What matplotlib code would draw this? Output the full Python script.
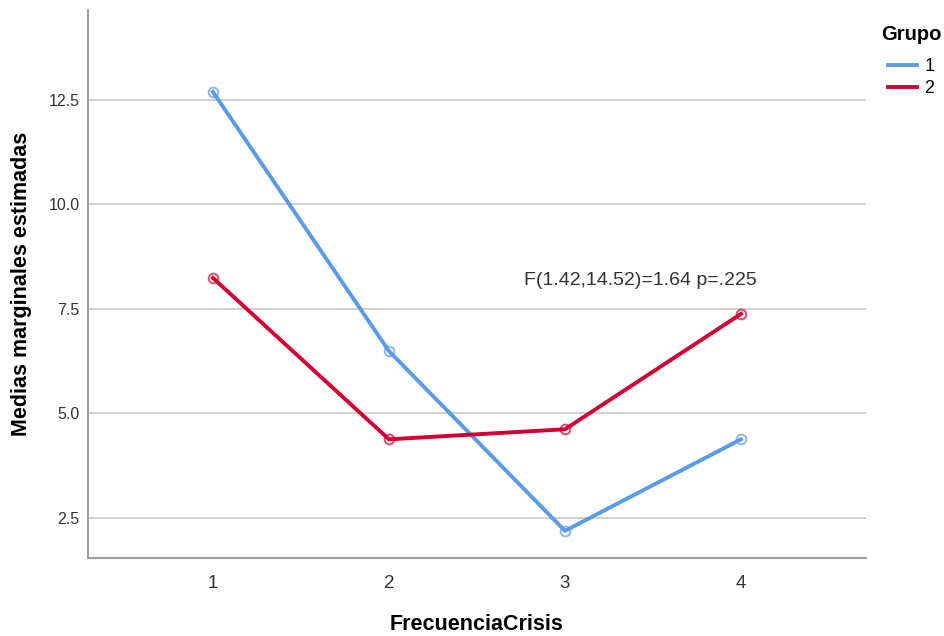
import matplotlib.pyplot as plt

plt.rcParams['font.family'] = ['Liberation Sans', 'DejaVu Sans']

frecuencia = [1, 2, 3, 4]
grupo1 = [12.69, 6.49, 2.19, 4.38]
grupo2 = [8.24, 4.38, 4.62, 7.38]
grupos = ['1', '2']
colores = ['#5a9be8', '#d50032']

fig = plt.figure(figsize=(9.45, 6.36), dpi=100)
ax = fig.add_axes([0.0931, 0.1226, 0.8233, 0.8617])

for vals, c, lab in zip([grupo1, grupo2], colores, grupos):
    ax.plot(frecuencia, vals, color=c, lw=2.8, label=lab, zorder=3)
    ax.plot(frecuencia, vals, 'o', mfc='none', mec=c, ms=7, mew=1.4, alpha=0.7, zorder=4)

ax.set_xlim(0.29, 4.71)
ax.set_ylim(1.54, 14.65)
ax.set_xticks(frecuencia)
ax.set_yticks([2.5, 5.0, 7.5, 10.0, 12.5])
ax.set_yticklabels(['2.5', '5.0', '7.5', '10.0', '12.5'])
ax.grid(axis='y', color='#c8c8c8', lw=1.2)
ax.set_axisbelow(True)
for s in ['top', 'right']:
    ax.spines[s].set_visible(False)
for s in ['left', 'bottom']:
    ax.spines[s].set_color('#a0a0a0')
    ax.spines[s].set_linewidth(1.5)
ax.tick_params(axis='x', length=0, labelsize=13.5, pad=12, colors='#333333')
ax.tick_params(axis='y', length=0, labelsize=11.5, pad=6, colors='#333333')

ax.set_xlabel('FrecuenciaCrisis', fontsize=15.5, fontweight='bold', labelpad=16)
ax.set_ylabel('Medias marginales estimadas', fontsize=15.5, fontweight='bold', labelpad=12)

ax.text(3.43, 8.17, 'F(1.42,14.52)=1.64 p=.225', fontsize=14, color='#333333',
        ha='center', va='center')

leg = fig.legend(loc='upper left', bbox_to_anchor=(0.925, 0.972), title='Grupo',
                 frameon=False, fontsize=13, handlelength=1.6, handletextpad=0.4,
                 labelspacing=0.3, borderaxespad=0)
leg.get_title().set_fontweight('bold')
leg.get_title().set_fontsize(14.5)
leg._legend_box.sep = 10

fig.savefig('out.png', dpi=100)
